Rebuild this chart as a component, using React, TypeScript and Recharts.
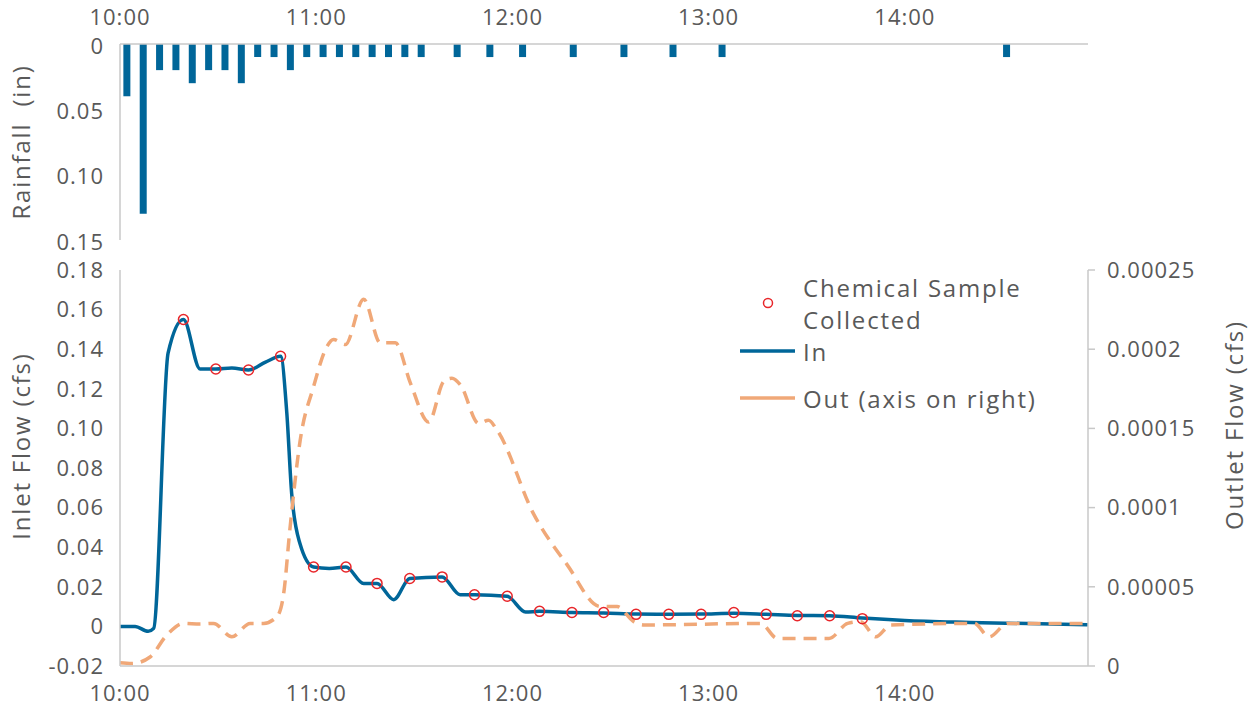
import { BarChart, Bar, ComposedChart, Line, Scatter, XAxis, YAxis, Legend } from "recharts"

// all times are minutes after 10:00
const hourTicks = [0, 60, 120, 180, 240]
const hourLabels = ["10:00", "11:00", "12:00", "13:00", "14:00"]

const rainTimes = [2, 7, 12, 17, 22, 27, 32, 37, 42, 47, 52, 57, 62, 67, 72, 77, 82, 87, 92, 103, 113, 123, 138.5, 154, 169, 184, 271]
const rainValues = [0.04, 0.13, 0.02, 0.02, 0.03, 0.02, 0.02, 0.03, 0.01, 0.01, 0.02, 0.01, 0.01, 0.01, 0.01, 0.01, 0.01, 0.01, 0.01, 0.01, 0.01, 0.01, 0.01, 0.01, 0.01, 0.01, 0.01]
const rainTicks = [0, 0.05, 0.1, 0.15]

const inTimes = [0, 4.6, 8.6, 10.3, 14.7, 19.4, 24.5, 29.3, 34.2, 39.3, 44.5, 49.1, 51, 52.5, 55, 59.2, 64, 69.1, 74.5, 78.6, 83.7, 88.6, 98.5, 104, 108.4, 118.4, 124, 128.3, 138.2, 147.9, 157.8, 167.8, 177.7, 187.7, 197.6, 207.1, 217, 227, 240, 260, 296]
const inValues = [0, 0, -0.0025, -0.001, 0.138, 0.155, 0.13, 0.13, 0.1305, 0.1295, 0.1335, 0.1364, 0.108, 0.067, 0.042, 0.03, 0.0293, 0.03, 0.0217, 0.0217, 0.0135, 0.0242, 0.025, 0.016, 0.016, 0.0152, 0.0073, 0.0076, 0.007, 0.0068, 0.0062, 0.0061, 0.0062, 0.0066, 0.0061, 0.0055, 0.0054, 0.0042, 0.003, 0.002, 0.0008]

const sampleTimes = [19.4, 29.3, 39.3, 49.1, 59.2, 69.1, 78.6, 88.6, 98.5, 108.4, 118.4, 128.3, 138.2, 147.9, 157.8, 167.8, 177.7, 187.7, 197.6, 207.1, 217, 227]
const sampleValues = [0.155, 0.13, 0.1295, 0.1364, 0.03, 0.03, 0.0217, 0.0242, 0.025, 0.016, 0.0152, 0.0076, 0.007, 0.007, 0.0061, 0.0061, 0.0061, 0.007, 0.0061, 0.0054, 0.0054, 0.0039]

const outTimes = [0, 3.6, 9.2, 14.3, 19.4, 24.5, 28.6, 34.2, 39.8, 43.9, 48, 50, 52, 55.1, 59.2, 63.3, 65.3, 68.9, 74.5, 79.6, 84.2, 88.8, 94.4, 99, 101.5, 104.1, 109.7, 112.7, 115.3, 126.5, 136.7, 146.9, 152, 157.1, 160.2, 195.9, 201, 216.8, 222.5, 226.5, 231.1, 235.7, 261.2, 265.8, 271.4, 296]
const outValues = [0.000002, 0.0000015, 0.0000057, 0.0000195, 0.0000269, 0.0000265, 0.0000269, 0.0000184, 0.0000269, 0.0000269, 0.0000312, 0.000045, 0.0000873, 0.0001425, 0.0001764, 0.0002018, 0.0002061, 0.0002029, 0.0002316, 0.000204, 0.000204, 0.0001786, 0.000154, 0.0001796, 0.0001817, 0.0001775, 0.0001531, 0.0001552, 0.0001489, 0.0000959, 0.000064, 0.0000375, 0.0000375, 0.000028, 0.0000259, 0.0000269, 0.0000174, 0.0000174, 0.0000269, 0.000028, 0.0000184, 0.0000259, 0.0000269, 0.0000184, 0.0000269, 0.0000269]

const inletTicks = [-0.02, 0, 0.02, 0.04, 0.06, 0.08, 0.1, 0.12, 0.14, 0.16, 0.18]
const outletTicks = [0, 0.00005, 0.0001, 0.00015, 0.0002, 0.00025]

const rainData = rainTimes.map((t, i) => ({ t, rain: rainValues[i] }))
const inData = inTimes.map((t, i) => ({ t, v: inValues[i] }))
const sampleData = sampleTimes.map((t, i) => ({ t, v: sampleValues[i] }))
const outData = outTimes.map((t, i) => ({ t, v: outValues[i] }))

const BLUE = "#006699"
const ORANGE = "#F0A878"
const RED = "#E8262A"
const TEXT = "#595959"
const AXIS = "#C8C8C8"
const FONT = "'Open Sans', sans-serif"

const tickStyle = { fill: TEXT, fontSize: 22, fontFamily: FONT, letterSpacing: 1 }

const fmtHour = (t: number) => hourLabels[hourTicks.indexOf(t)] ?? ""
const fmtTwo = (v: number) => (v === 0 ? "0" : v.toFixed(2))
const fmtOut = (v: number) => String(v)

function AxisTitle({ cx, cy, title }: any) {
  return (
    <text
      x={cx}
      y={cy}
      transform={`rotate(-90 ${cx} ${cy})`}
      textAnchor="middle"
      dominantBaseline="central"
      fontSize={24}
      fontFamily={FONT}
      fill={TEXT}
      letterSpacing={1.8}
      style={{ whiteSpace: "pre" }}
    >
      {title}
    </text>
  )
}

function OpenCircle({ cx, cy }: any) {
  return <circle cx={cx} cy={cy} r={5} fill="none" stroke={RED} strokeWidth={1.5} />
}

function SeriesLegend() {
  const label = { fontSize: 24, fontFamily: FONT, fill: TEXT, letterSpacing: 1.8, dominantBaseline: "central" as const }
  return (
    <svg width={330} height={145}>
      <circle cx={38} cy={31} r={4.5} fill="none" stroke={RED} strokeWidth={1.5} />
      <text x={73} y={15} {...label}>
        <tspan x={73} y={15}>Chemical Sample</tspan>
        <tspan x={73} y={47}>Collected</tspan>
      </text>
      <line x1={10} x2={65} y1={79} y2={79} stroke={BLUE} strokeWidth={3.5} />
      <text x={73} y={79} {...label}>In</text>
      <line x1={10} x2={65} y1={126} y2={126} stroke={ORANGE} strokeWidth={3.5} />
      <text x={73} y={126} {...label}>Out (axis on right)</text>
    </svg>
  )
}

export default function App() {
  return (
    <div style={{ position: "absolute", left: 0, top: 0, width: 1249, height: 707, background: "#fff", fontFamily: FONT }}>

      <div style={{ position: "absolute", left: 0, top: 0 }}>
        <BarChart width={1249} height={262} data={rainData} margin={{ top: 0, right: 161, bottom: 22, left: 0 }}>
          <XAxis
            dataKey="t"
            type="number"
            domain={[0, 296]}
            orientation="top"
            height={44}
            ticks={hourTicks}
            interval={0}
            tickFormatter={fmtHour}
            axisLine={{ stroke: AXIS, strokeWidth: 1.5 }}
            tickLine={false}
            tickSize={0}
            tickMargin={19}
            tick={tickStyle}
          />
          <YAxis
            type="number"
            domain={[0, 0.15]}
            reversed
            ticks={rainTicks}
            interval={0}
            tickFormatter={fmtTwo}
            width={120}
            axisLine={{ stroke: AXIS, strokeWidth: 1.5 }}
            tickLine={false}
            tickSize={0}
            tickMargin={16}
            tick={{ ...tickStyle, dy: 2 }}
            label={<AxisTitle cx={20} cy={142} title="Rainfall  (in)" />}
          />
          <Bar dataKey="rain" fill={BLUE} barSize={7} isAnimationActive={false} />
        </BarChart>
      </div>

      <div style={{ position: "absolute", left: 0, top: 250 }}>
        <ComposedChart width={1249} height={457} margin={{ top: 20, right: 0, bottom: 0, left: 0 }}>
          <XAxis
            dataKey="t"
            type="number"
            domain={[0, 296]}
            height={41}
            ticks={hourTicks}
            interval={0}
            tickFormatter={fmtHour}
            axisLine={{ stroke: AXIS, strokeWidth: 1.5 }}
            tickLine={false}
            tickSize={0}
            tickMargin={19}
            tick={tickStyle}
          />
          <YAxis
            yAxisId="in"
            type="number"
            domain={[-0.02, 0.18]}
            ticks={inletTicks}
            interval={0}
            tickFormatter={fmtTwo}
            width={120}
            axisLine={{ stroke: AXIS, strokeWidth: 1.5 }}
            tickLine={false}
            tickSize={0}
            tickMargin={16}
            tick={tickStyle}
            label={<AxisTitle cx={20} cy={196} title="Inlet Flow (cfs)" />}
          />
          <YAxis
            yAxisId="out"
            orientation="right"
            type="number"
            domain={[0, 0.00025]}
            ticks={outletTicks}
            interval={0}
            tickFormatter={fmtOut}
            width={161}
            axisLine={{ stroke: AXIS, strokeWidth: 1.5 }}
            tickLine={{ stroke: AXIS, strokeWidth: 1.5 }}
            tickSize={7}
            tickMargin={12}
            tick={tickStyle}
            label={<AxisTitle cx={1233} cy={175} title="Outlet Flow (cfs)" />}
          />
          <Line
            yAxisId="in"
            data={inData}
            dataKey="v"
            type="monotone"
            stroke={BLUE}
            strokeWidth={3.5}
            dot={false}
            isAnimationActive={false}
          />
          <Line
            yAxisId="out"
            data={outData}
            dataKey="v"
            type="monotone"
            stroke={ORANGE}
            strokeWidth={3.5}
            strokeDasharray="13 8"
            dot={false}
            isAnimationActive={false}
          />
          <Scatter
            yAxisId="in"
            data={sampleData}
            dataKey="v"
            shape={<OpenCircle />}
            isAnimationActive={false}
          />
          <Legend
            content={<SeriesLegend />}
            layout="horizontal"
            verticalAlign="middle"
            align="center"
            wrapperStyle={{ left: 730, top: 22, width: 330 }}
          />
        </ComposedChart>
      </div>

    </div>
  )
}
